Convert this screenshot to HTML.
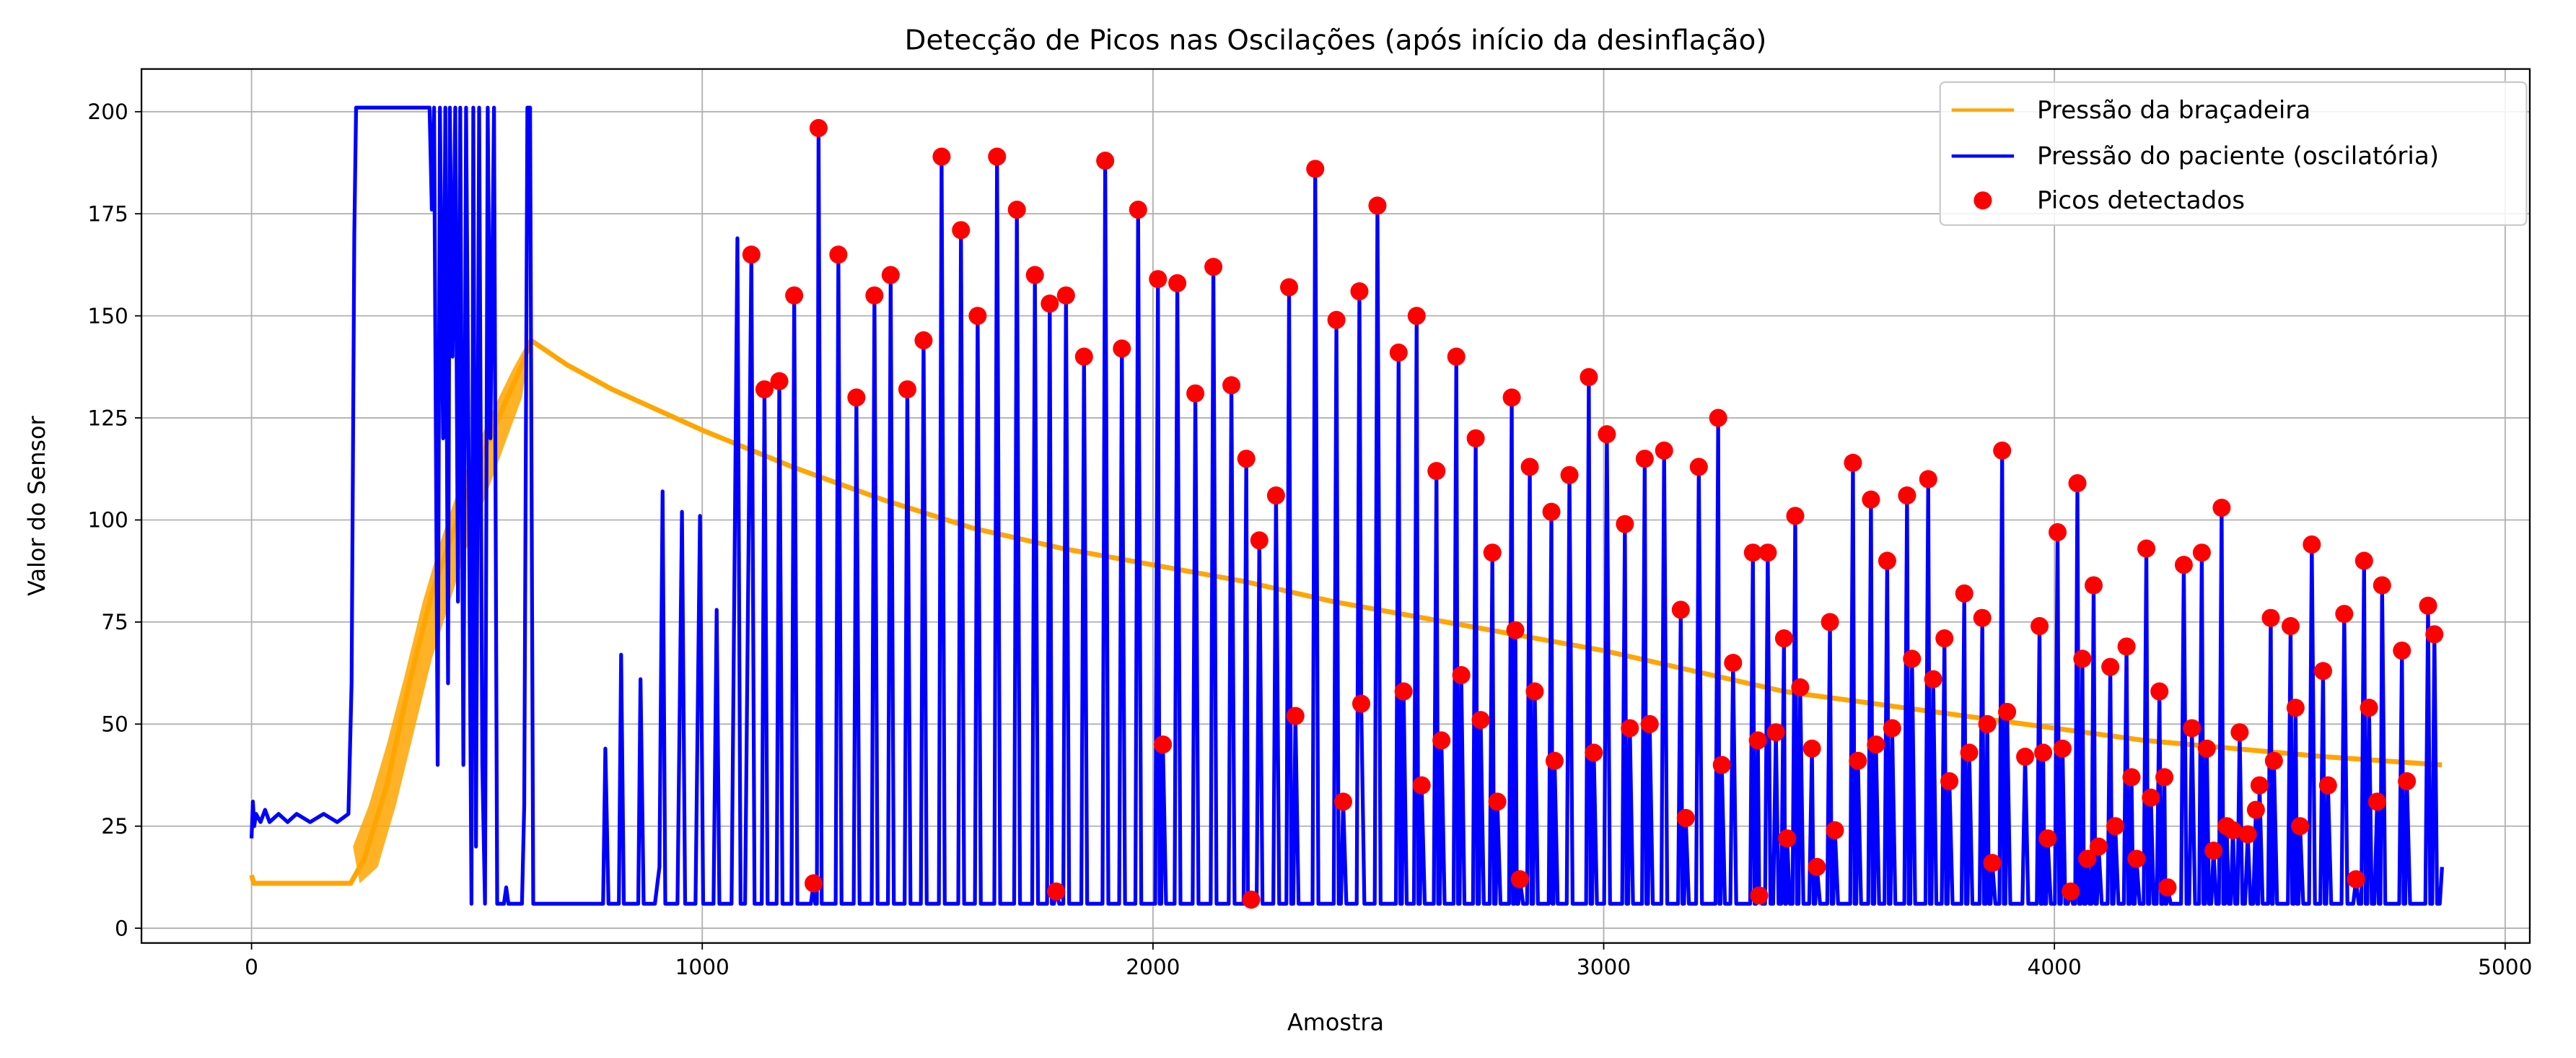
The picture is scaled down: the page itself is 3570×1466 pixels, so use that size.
<!DOCTYPE html>
<html><head><meta charset="utf-8"><style>
html,body{margin:0;padding:0;background:#fff;}
svg{display:block;font-family:"DejaVu Sans","Liberation Sans",sans-serif;}
</style></head><body>
<svg id="chart" width="3570" height="1466" viewBox="0 0 1568 644" xmlns="http://www.w3.org/2000/svg">
<rect x="0" y="0" width="1568" height="644" fill="#fff"/>
<g id="grid"></g>
<g id="series"></g>
<rect x="86" y="42" width="1454" height="532" fill="none" stroke="#000" stroke-width="1"/>
<g id="axes"></g>
<text x="813" y="30" text-anchor="middle" font-size="17">Detecção de Picos nas Oscilações (após início da desinflação)</text>
<text x="813" y="627" text-anchor="middle" font-size="14">Amostra</text>
<text x="27" y="308" text-anchor="middle" font-size="14" transform="rotate(-90 27 308)">Valor do Sensor</text>
<g>
<rect x="1181" y="50" width="357" height="87" rx="3" fill="#fff" fill-opacity="0.85" stroke="#ccc" stroke-width="1"/>
<line x1="1188" y1="67" x2="1226" y2="67" stroke="orange" stroke-width="2"/>
<text x="1240" y="72" font-size="15">Pressão da braçadeira</text>
<line x1="1188" y1="95" x2="1226" y2="95" stroke="#0000ff" stroke-width="2"/>
<text x="1240" y="100" font-size="15">Pressão do paciente (oscilatória)</text>
<circle cx="1207" cy="122" r="5.5" fill="red"/>
<text x="1240" y="127" font-size="15">Picos detectados</text>
</g>
</svg>
<script>
const xTicks = [0, 1000, 2000, 3000, 4000, 5000];
const yTicks = [0, 25, 50, 75, 100, 125, 150, 175, 200];
const cuffX = [0,5,220,250,300,350,400,450,500,560,600,620,700,800,900,1000,1200,1400,1600,1800,2000,2200,2400,2600,2800,3000,3200,3400,3600,3800,4000,4200,4400,4600,4860];
const cuffY = [13,11,11,17,35,60,82,98,113,128,138,144,138,132,127,122,113,105,98,93,89,85,80,76,72,68,63,58,55,52,49,46,44,42,40];
const cuffBandX = [225,260,300,340,380,420,460,500,540,580,620,600,560,520,480,440,400,360,320,280,240];
const cuffBandY = [20,30,45,62,80,95,108,118,128,137,145,130,118,106,94,80,66,48,30,15,11];
const earlyX = [0,3,6,10,20,30,40,60,80,100,130,160,190,215,222,228,232,395,400,405,410,413,418,425,430,436,440,446,452,458,463,470,476,482,488,492,498,505,512,518,524,530,538,545,560,565,570,600,605,612,618,625,780,785,792,815,820,826,858,863,870,895,905,912,918,945,955,962,985,995,1002,1025,1032,1038,1065,1078,1085,1095];
const earlyY = [22,31,25,28,26,29,26,28,26,28,26,28,26,28,60,170,201,201,176,201,100,40,201,120,201,60,201,140,201,80,201,40,201,110,6,201,20,201,40,6,201,120,201,6,6,10,6,6,30,201,201,6,6,44,6,6,67,6,6,61,6,6,15,107,6,6,102,6,6,101,6,6,78,6,6,169,6,6];
const peakX = [1109,1138,1171,1204,1247,1258,1302,1342,1382,1418,1455,1491,1531,1574,1611,1654,1698,1738,1771,1785,1807,1847,1894,1931,1967,2011,2022,2054,2094,2134,2174,2207,2218,2236,2273,2302,2316,2360,2407,2422,2458,2462,2498,2545,2556,2585,2596,2629,2640,2673,2684,2716,2727,2753,2764,2796,2804,2814,2836,2847,2884,2891,2924,2967,2978,3007,3047,3058,3091,3102,3134,3171,3182,3211,3254,3262,3287,3331,3342,3345,3364,3382,3400,3407,3425,3436,3462,3473,3502,3513,3553,3564,3593,3604,3629,3640,3673,3684,3720,3731,3756,3767,3800,3811,3840,3851,3862,3884,3895,3935,3967,3975,3985,4007,4018,4036,4051,4062,4073,4087,4098,4124,4135,4160,4171,4182,4204,4214,4233,4244,4251,4287,4305,4327,4338,4353,4371,4382,4396,4411,4429,4447,4455,4480,4487,4524,4535,4545,4571,4596,4607,4643,4669,4687,4698,4716,4727,4771,4782,4829,4843];
const peakY = [165,132,134,155,11,196,165,130,155,160,132,144,189,171,150,189,176,160,153,9,155,140,188,142,176,159,45,158,131,162,133,115,7,95,106,157,52,186,149,31,156,55,177,141,58,150,35,112,46,140,62,120,51,92,31,130,73,12,113,58,102,41,111,135,43,121,99,49,115,50,117,78,27,113,125,40,65,92,46,8,92,48,71,22,101,59,44,15,75,24,114,41,105,45,90,49,106,66,110,61,71,36,82,43,76,50,16,117,53,42,74,43,22,97,44,9,109,66,17,84,20,64,25,69,37,17,93,32,58,37,10,89,49,92,44,19,103,25,24,48,23,29,35,76,41,74,54,25,94,63,35,77,12,90,54,31,84,68,36,79,72];

const NS='http://www.w3.org/2000/svg';
const X0=86,X1=1540,Y0=42,Y1=574;
const sx=v=>153+v*0.2744;
const sy=v=>565-v*2.485;
function mk(tag,attrs,parent){const e=document.createElementNS(NS,tag);for(const k in attrs)e.setAttribute(k,attrs[k]);parent.appendChild(e);return e;}
const grid=document.getElementById('grid'),axes=document.getElementById('axes'),series=document.getElementById('series');
xTicks.forEach(t=>{
  const x=sx(t);
  const g=mk('line',{x1:x,x2:x,y1:Y0,y2:Y1,stroke:'#b0b0b0','stroke-width':0.8},grid);
  
  
  const tk=mk('line',{x1:x,x2:x,y1:Y1,y2:Y1+4,stroke:'#000','stroke-width':0.8},axes);
  
  
  const lb=mk('text',{x:x,y:Y1+19,'text-anchor':'middle','font-size':13},axes);
  lb.textContent=t;
  
  
});
yTicks.forEach(t=>{
  const y=sy(t);
  const g=mk('line',{x1:X0,x2:X1,y1:y,y2:y,stroke:'#b0b0b0','stroke-width':0.8},grid);
  
  
  const tk=mk('line',{x1:X0-4,x2:X0,y1:y,y2:y,stroke:'#000','stroke-width':0.8},axes);
  
  
  const lb=mk('text',{x:X0-8,y:y+4.5,'text-anchor':'end','font-size':13},axes);
  lb.textContent=t;
  
  
});
const band=mk('polygon',{points:cuffBandX.map((v,i)=>sx(v)+','+sy(cuffBandY[i])).join(' '),fill:'orange',opacity:0.85},series);


const cuff=mk('polyline',{points:cuffX.map((v,i)=>sx(v)+','+sy(cuffY[i])).join(' '),fill:'none',stroke:'orange','stroke-width':3,'stroke-linejoin':'round'},series);


const px=[...earlyX],py=[...earlyY];
for(let i=0;i<peakX.length;i++){
  const prev=px[px.length-1];
  const gap=peakX[i]-prev;
  if(i>0 && gap>6){px.push(prev+Math.min(7,gap/3));py.push(6);px.push(peakX[i]-Math.min(6,gap/3));py.push(6);}
  px.push(peakX[i]);py.push(peakY[i]);
}
px.push(peakX[peakX.length-1]+6);py.push(6);px.push(4855);py.push(6);px.push(4860);py.push(15);
const blue=mk('polyline',{points:px.map((v,i)=>sx(v)+','+sy(py[i])).join(' '),fill:'none',stroke:'#0000ff','stroke-width':2.3,'stroke-linejoin':'round'},series);


peakX.forEach((v,i)=>{
  const c=mk('circle',{cx:sx(v),cy:sy(peakY[i]),r:5.5,fill:'red'},series);
  
  
});
</script>
</body></html>
